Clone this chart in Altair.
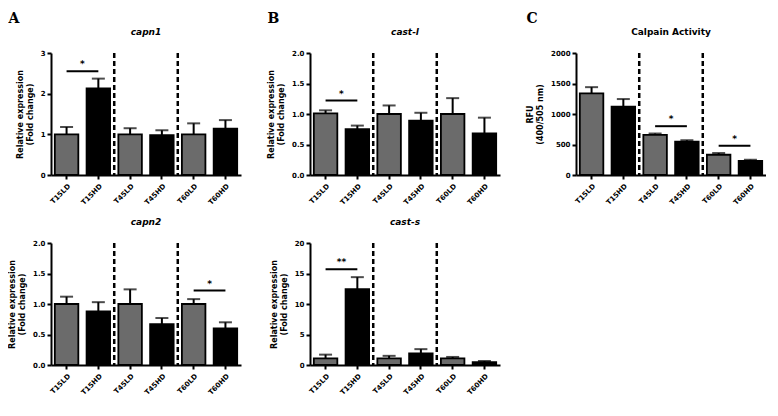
import altair as alt
import pandas as pd

categories = ["T15LD", "T15HD", "T45LD", "T45HD", "T60LD", "T60HD"]
dose = ["LD", "HD", "LD", "HD", "LD", "HD"]

capn1_mean = [1.0, 2.13, 1.0, 0.98, 1.0, 1.14]
capn1_upper = [1.18, 2.37, 1.15, 1.1, 1.27, 1.35]
capn2_mean = [1.0, 0.88, 1.0, 0.67, 1.0, 0.6]
capn2_upper = [1.12, 1.03, 1.24, 0.77, 1.08, 0.7]
castl_mean = [1.01, 0.75, 1.0, 0.89, 1.0, 0.68]
castl_upper = [1.06, 0.81, 1.14, 1.02, 1.26, 0.94]
casts_mean = [1.07, 12.45, 1.07, 1.9, 1.07, 0.46]
casts_upper = [1.7, 14.4, 1.5, 2.6, 1.32, 0.66]
calpain_mean = [1337, 1122, 658, 546, 332, 230]
calpain_upper = [1440, 1245, 680, 570, 360, 250]

capn1_sig = [("T15LD", "T15HD", 2.55, "*")]
capn2_sig = [("T60LD", "T60HD", 1.22, "*")]
castl_sig = [("T15LD", "T15HD", 1.22, "*")]
casts_sig = [("T15LD", "T15HD", 15.7, "**")]
calpain_sig = [("T45LD", "T45HD", 800, "*"), ("T60LD", "T60HD", 480, "*")]

divider_cats = ["T45LD", "T60LD"]

W, H = 190, 122
P_IN, P_OUT = 0.26, 0.12
STEP = W / (len(categories) - P_IN + 2 * P_OUT)
GAP = STEP * P_IN
GRAY = "#6b6b6b"
FONT = "DejaVu Sans"


def panel(title, italic, mean, upper, ymax, yvals, yfmt, ytitle, sig):
    df = pd.DataFrame({"cat": categories, "dose": dose, "mean": mean, "upper": upper})
    xsc = alt.Scale(domain=categories, paddingInner=P_IN, paddingOuter=P_OUT)
    ysc = alt.Scale(domain=[0, ymax], nice=False)
    xax = alt.Axis(title=None, labelAngle=-45, labelPadding=3)
    yax = alt.Axis(title=ytitle, values=yvals, format=yfmt, titlePadding=6, labelOverlap=False)
    X = lambda f, **kw: alt.X(f, scale=xsc, sort=categories, axis=xax, **kw)
    Y = lambda f: alt.Y(f, scale=ysc, axis=yax)
    base = alt.Chart(df)
    bars = base.mark_bar(stroke="black", strokeWidth=1.8).encode(
        x=X("cat:N"),
        y=Y("mean:Q"),
        color=alt.Color("dose:N", scale=alt.Scale(domain=["LD", "HD"], range=[GRAY, "black"]), legend=None),
    )
    err = base.mark_rule(color="black", strokeWidth=2).encode(
        x=X("cat:N"), y=Y("mean:Q"), y2="upper:Q")
    cap = base.mark_tick(color="black", thickness=2, size=13, orient="horizontal").encode(
        x=X("cat:N"), y=Y("upper:Q"))
    ddf = pd.DataFrame({"cat": divider_cats})
    div = alt.Chart(ddf).mark_rule(color="black", strokeWidth=2.5, strokeDash=[5, 3],
                                    xOffset=-GAP / 2).encode(
        x=X("cat:N", bandPosition=0), y=alt.value(0), y2=alt.value(H))
    sdf = pd.DataFrame({"c1": [s[0] for s in sig], "c2": [s[1] for s in sig],
                        "lvl": [s[2] for s in sig], "lab": [s[3] for s in sig]})
    sline = alt.Chart(sdf).mark_rule(color="black", strokeWidth=2).encode(
        x=X("c1:N"), x2="c2:N", y=Y("lvl:Q"))
    stext = alt.Chart(sdf).mark_text(color="black", fontSize=9, fontWeight="bold", font=FONT,
                                     baseline="bottom", dy=-2, xOffset=STEP / 2).encode(
        x=X("c1:N"), y=Y("lvl:Q"), text="lab:N")
    return alt.layer(bars, err, cap, div, sline, stext).properties(
        width=W, height=H,
        title=alt.TitleParams(title, fontStyle="italic" if italic else "normal", fontWeight="bold",
                              fontSize=9, font=FONT, offset=12, anchor="middle"),
    )


rel = ["Relative expression", "(Fold change)"]
p_capn1 = panel("capn1", True, capn1_mean, capn1_upper, 3, [0, 1, 2, 3], "d", rel, capn1_sig)
p_capn2 = panel("capn2", True, capn2_mean, capn2_upper, 2, [0, 0.5, 1, 1.5, 2], ".1f", rel, capn2_sig)
p_castl = panel("cast-l", True, castl_mean, castl_upper, 2, [0, 0.5, 1, 1.5, 2], ".1f", rel, castl_sig)
p_casts = panel("cast-s", True, casts_mean, casts_upper, 20, [0, 5, 10, 15, 20], "d", rel, casts_sig)
p_calp = panel("Calpain Activity", False, calpain_mean, calpain_upper, 2000,
               [0, 500, 1000, 1500, 2000], "d", ["RFU", "(400/505 nm)"], calpain_sig)

letter = dict(anchor="start", font="DejaVu Serif", fontSize=14, fontWeight="bold", offset=2)

colA = alt.vconcat(p_capn1, p_capn2, spacing=12).properties(title=alt.TitleParams("A", **letter))
colB = alt.vconcat(p_castl, p_casts, spacing=12).properties(title=alt.TitleParams("B", **letter))
colC = alt.vconcat(p_calp).properties(title=alt.TitleParams("C", **letter))

chart = alt.hconcat(colA, colB, colC, spacing=26).properties(
    padding={"left": 0, "top": 4, "right": 0, "bottom": 0}
).configure_view(
    stroke=None
).configure_axis(
    domainColor="black", domainWidth=2, tickColor="black", tickWidth=2, tickSize=4,
    labelFont=FONT, labelFontWeight="bold", labelFontSize=7, labelColor="black",
    titleFont=FONT, titleFontWeight="bold", titleFontSize=8, titleColor="black", grid=False,
)

chart.save("out.html", embed_options={"renderer": "svg", "actions": False})
